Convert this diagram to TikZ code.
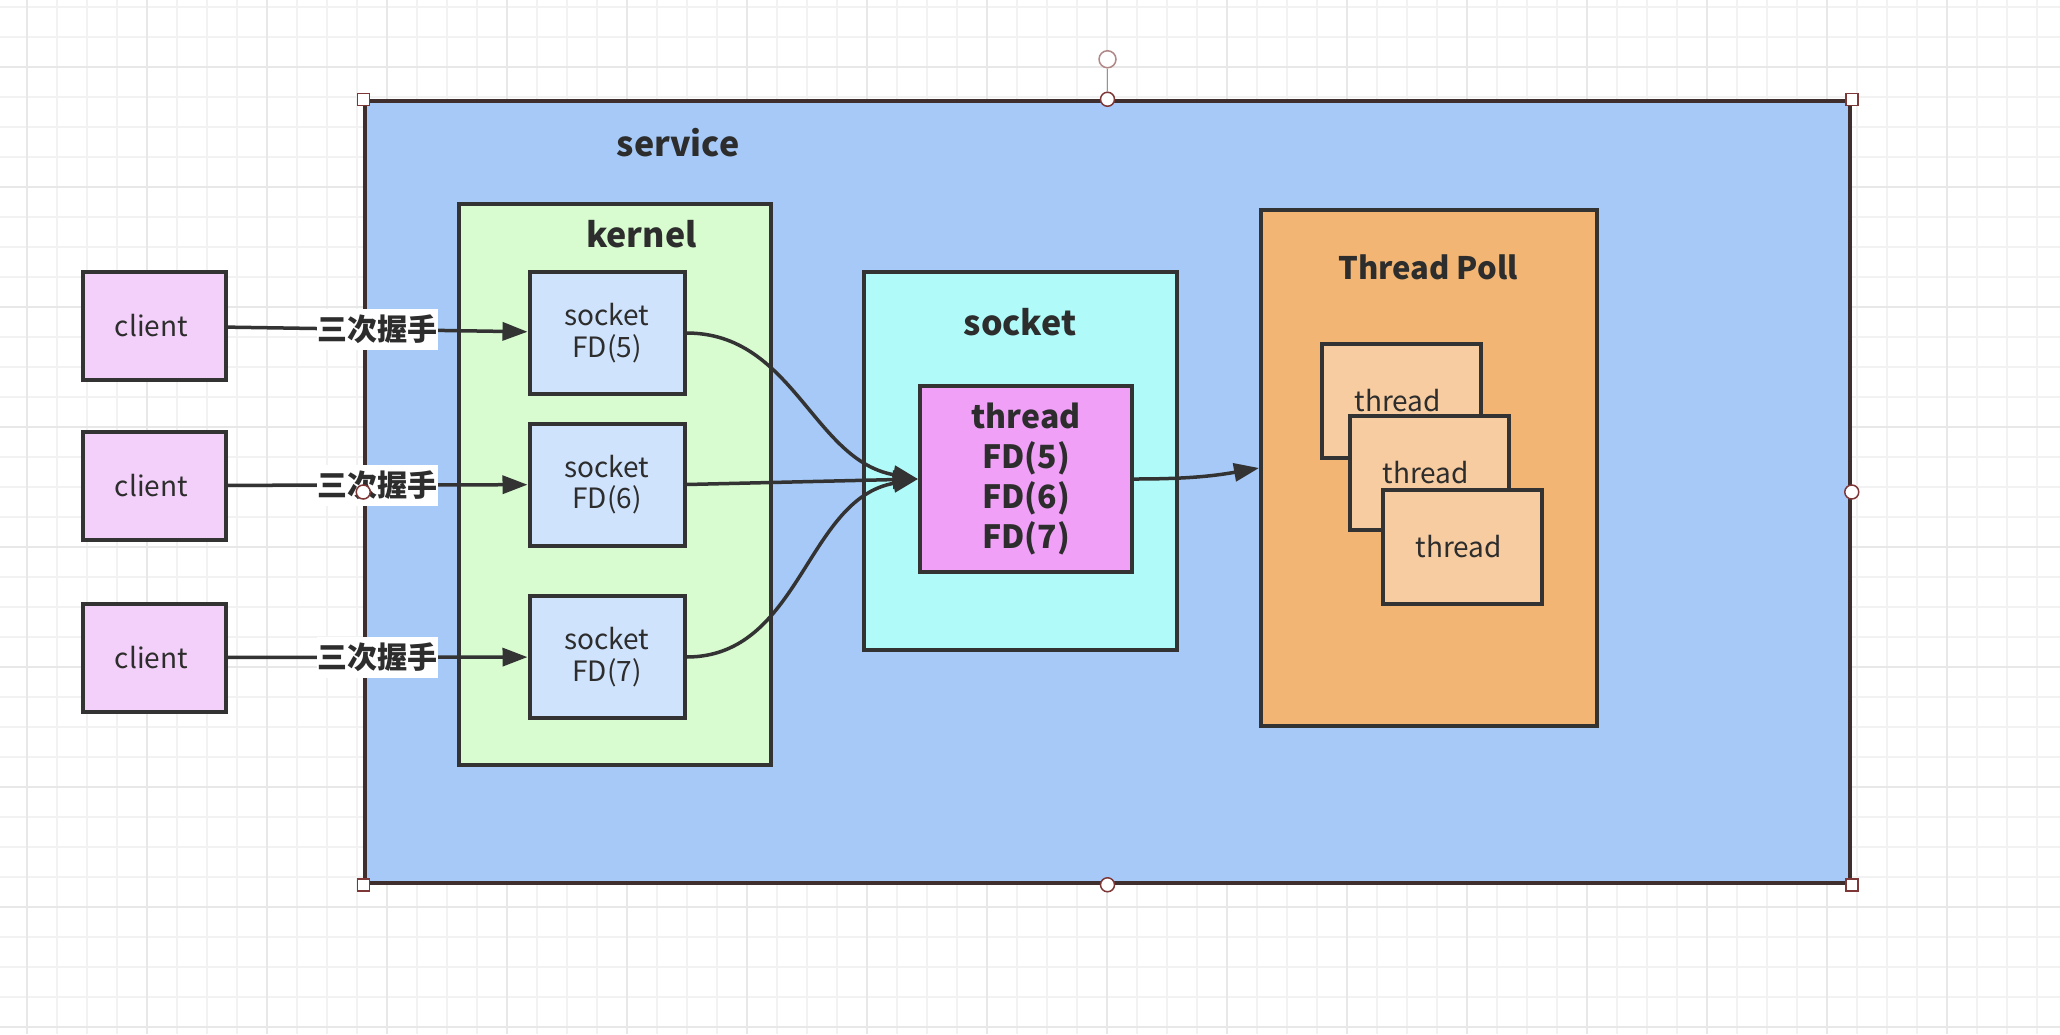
\documentclass[tikz,border=0pt]{standalone}
\usepackage{fontspec}
\setmainfont{Noto Sans CJK SC}
\usetikzlibrary{arrows.meta,positioning}

\definecolor{svcblue}{RGB}{166,201,247}
\definecolor{kergreen}{RGB}{216,251,208}
\definecolor{fdblue}{RGB}{207,227,252}
\definecolor{clipink}{RGB}{243,208,250}
\definecolor{sockcyan}{RGB}{176,250,250}
\definecolor{thmag}{RGB}{240,160,246}
\definecolor{poolorange}{RGB}{242,181,115}
\definecolor{thpeach}{RGB}{246,204,160}
\definecolor{edgegray}{RGB}{51,51,51}
\definecolor{inkgray}{RGB}{45,45,45}
\definecolor{svcedge}{RGB}{62,46,46}
\definecolor{hdlred}{RGB}{125,55,55}
\definecolor{gridlight}{RGB}{242,242,242}
\definecolor{griddark}{RGB}{232,232,232}

\begin{document}
\begin{tikzpicture}
[
    x = 1pt, y = -1pt,
    box/.style       = {draw=edgegray,
                        line width=4pt,
                        inner sep=0pt,
                        text=inkgray,
                        align=center},
    clientbox/.style = {box, fill=clipink,
                        minimum width=143pt,
                        minimum height=108pt,
                        font=\fontsize{28}{31.5}\selectfont},
    fdbox/.style     = {box, fill=fdblue,
                        minimum width=155pt,
                        minimum height=122pt,
                        font=\fontsize{28}{31.5}\selectfont},
    thbox/.style     = {box, fill=thpeach,
                        minimum width=159pt,
                        minimum height=114pt,
                        font=\fontsize{28}{31.5}\selectfont},
    title/.style     = {anchor=base,
                        inner sep=0pt,
                        text=inkgray,
                        font=\bfseries\fontsize{34}{40}\selectfont},
    hshake/.style    = {fill=white,
                        text=inkgray,
                        inner xsep=0.5pt,
                        inner ysep=0pt,
                        minimum height=41pt,
                        font=\bfseries\fontsize{30}{34}\selectfont},
    arr/.style       = {draw=edgegray,
                        line width=3.5pt,
                        -{Triangle[length=25pt,width=18pt]}},
    hdlsq/.style     = {draw=hdlred, fill=white,
                        line width=1.5pt,
                        minimum size=12pt,
                        inner sep=0pt},
    hdlci/.style     = {hdlsq, circle,
                        minimum size=14pt},
    gridminor/.style = {draw=gridlight, line width=1.5pt},
    gridmajor/.style = {draw=griddark, line width=2pt}
]

% canvas and grid
\useasboundingbox (0,0) rectangle (2060,1034);
\fill[white] (0,0) rectangle (2060,1034);
\foreach \gx in {27,57,...,2057}
    \draw[gridminor] (\gx,0) -- (\gx,1034);
\foreach \gy in {7,37,...,1034}
    \draw[gridminor] (0,\gy) -- (2060,\gy);
\foreach \gx in {27,147,...,2057}
    \draw[gridmajor] (\gx,0) -- (\gx,1034);
\foreach \gy in {67,187,...,1034}
    \draw[gridmajor] (0,\gy) -- (2060,\gy);

% service
\node (svc) [box, draw=svcedge, line width=3.5pt, fill=svcblue,
             minimum width=1485pt, minimum height=782pt] at (1107.5,492) {};
\node (svcT) [title] at (678,156) {
service
};

% kernel
\node (ker) [box, fill=kergreen,
             minimum width=312pt, minimum height=561pt] at (615,484) {};
\node (kerT) [title] at (641.5,247) {
kernel
};

\node (s5) [fdbox] at (607,333) {
socket\\FD(5)
};
\node (s6) [fdbox, below=25.5pt of s5] {
socket\\FD(6)
};
\node (s7) [fdbox, below=46.5pt of s6] {
socket\\FD(7)
};

% clients
\node (c1) [clientbox] at (154.5,326) {
client
};
\node (c2) [clientbox] at (154.5,485.5) {
client
};
\node (c3) [clientbox] at (154.5,657.5) {
client
};

\draw[arr] (c1) -- node[hshake] {三次握手} (s5);
\draw[arr] (c2) -- node[hshake] {三次握手} (s6);
\draw[arr] (c3) -- node[hshake] {三次握手} (s7);

% socket
\node (sock) [box, fill=sockcyan,
              minimum width=313pt, minimum height=378pt] at (1020,461) {};
\node (sockT) [title] at (1020,335) {
socket
};

\node (th) [box, fill=thmag,
            minimum width=212pt, minimum height=186pt,
            font=\bfseries\fontsize{32}{40}\selectfont] at (1026,479) {
thread\\FD(5)\\FD(6)\\FD(7)
};

\draw[arr] (s5.east) to [out=0, in=170] (th.west);
\draw[arr] (s6.east) -- (th.west);
\draw[arr] (s7.east) to [out=0, in=190] (th.west);

% thread poll
\node (pool) [box, fill=poolorange,
              minimum width=336pt, minimum height=516pt] at (1429,468) {};
\node (poolT) [title, font=\bfseries\fontsize{31}{36}\selectfont] at (1428,279.5) {
Thread Poll
};

\node (t1) [thbox] at (1401,401) {
thread
};
\node (t2) [thbox] at (1429,473) {
thread
};
\node (t3) [thbox] at (1462,546.5) {
thread
};

\draw[arr] (th.east) to [out=0, in=190] (pool.west);

% selection handles
\node (hnw) [hdlsq] at (svc.north west) {};
\node (hne) [hdlsq] at (svc.north east) {};
\node (hsw) [hdlsq] at (svc.south west) {};
\node (hse) [hdlsq] at (svc.south east) {};
\node (hn)  [hdlci] at (svc.north) {};
\node (hs)  [hdlci] at (svc.south) {};
\node (hw)  [hdlci] at (svc.west) {};
\node (he)  [hdlci] at (svc.east) {};
\node (hrot) [hdlci, draw=hdlred!60, minimum size=17pt] at ([yshift=40pt]svc.north) {};

\draw[hdlred!60, line width=1.5pt] (hrot) -- (hn);

\end{tikzpicture}
\end{document}
